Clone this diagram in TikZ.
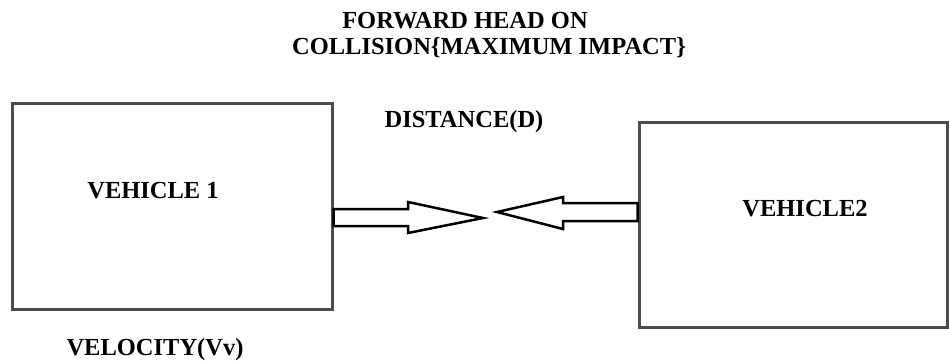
\documentclass[tikz,border=0pt]{standalone}
\usepackage{fontspec}
\setmainfont{Liberation Serif}
\usetikzlibrary{calc}

\tikzset{
  vbox/.style={draw=black!70, line width=3pt, inner sep=0pt},
  lbl/.style={font=\fontsize{24.5}{28}\selectfont\bfseries, inner sep=0pt, anchor=center},
  blockarrow/.style={draw=black, line width=2.5pt, fill=white, line join=miter}
}

\begin{document}
\begin{tikzpicture}[x=1pt, y=-1pt]
\useasboundingbox (0,0) rectangle (949,360);

% titel
\node[lbl] (t1) at (465,21) {FORWARD HEAD ON};
\node[lbl] (t2) at (489,48) {COLLISION\{MAXIMUM IMPACT\}};

% voertuigen
\node[vbox, minimum width=320pt, minimum height=206pt] (box1) at (172,206) {};
\node[vbox, minimum width=308pt, minimum height=205pt] (box2) at (793,224.5) {};

\node[lbl] (v1) at (153,191) {VEHICLE 1};
\node[lbl] (v2) at (805,209) {VEHICLE2};

\node[lbl] (dist) at (464,122) {DISTANCE(D)};
\node[lbl] (vel) at (155,350) {VELOCITY(Vv)};

% pijlen
\coordinate (tip1) at (483,218);
\coordinate (tip2) at (497,212);

\draw[blockarrow] (box1.east |- 0,209) -- (408,209) -- (408,202) -- (tip1)
  -- (408,233) -- (408,226) -- (box1.east |- 0,226) -- cycle;
\draw[blockarrow] (box2.west |- 0,203) -- (563,203) -- (563,197) -- (tip2)
  -- (563,229) -- (563,221) -- (box2.west |- 0,221) -- cycle;

\end{tikzpicture}
\end{document}
